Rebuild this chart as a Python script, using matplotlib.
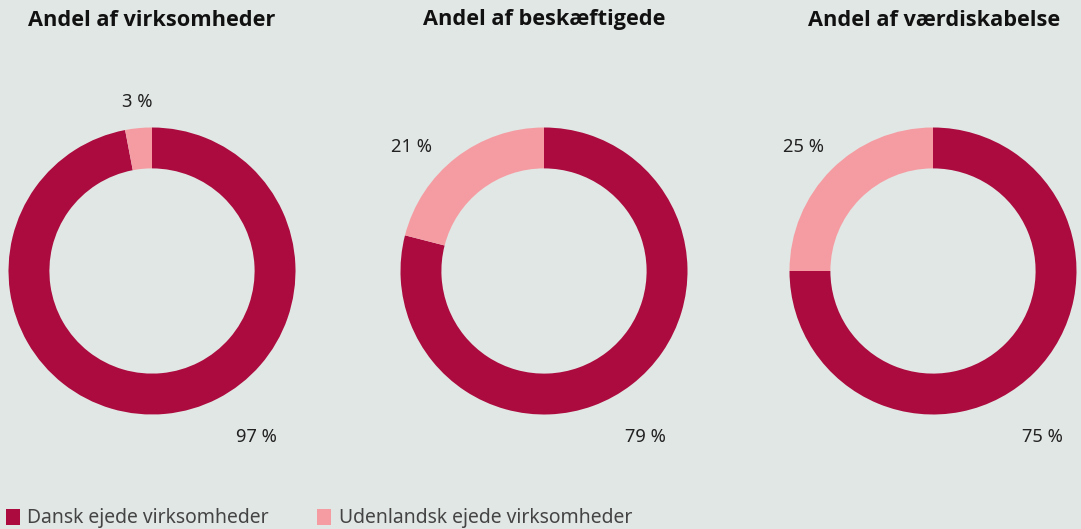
import matplotlib
matplotlib.use("Agg")
import matplotlib.pyplot as plt
from matplotlib.patches import Patch

titles = ["Andel af virksomheder", "Andel af beskæftigede", "Andel af værdiskabelse"]
series = ["Dansk ejede virksomheder", "Udenlandsk ejede virksomheder"]
dansk = [97, 79, 75]
udenlandsk = [3, 21, 25]

colors = ["#ab0b3f", "#f59ca3"]
bg = "#e1e7e4"
plt.rcParams["font.family"] = ["Noto Sans", "DejaVu Sans"]

W, H = 1081, 529
fig = plt.figure(figsize=(W / 100, H / 100), dpi=100, facecolor=bg)

centers_x = [152, 544, 933]
center_y = 271
R = 143.5
L = 1.05
small_label_pos = [(-0.10, 1.175), (-0.92, 0.865), (-0.905, 0.865)]
big_label_pos = [(0.73, -1.155), (0.71, -1.155), (0.76, -1.155)]
title_x = [152, 544, 934]

for i in range(3):
    size = 2 * L * R
    left = (centers_x[i] - size / 2) / W
    bottom = ((H - center_y) - size / 2) / H
    ax = fig.add_axes([left, bottom, size / W, size / H])
    ax.set_facecolor(bg)
    ax.pie([dansk[i], udenlandsk[i]], colors=colors, startangle=90,
           counterclock=False, radius=1.0,
           wedgeprops=dict(width=0.285, edgecolor="none", linewidth=0))
    ax.set_xlim(-L, L)
    ax.set_ylim(-L, L)
    ax.set_aspect("equal")
    ax.axis("off")
    ax.text(*small_label_pos[i], f"{udenlandsk[i]} %", ha="center", va="center",
            fontsize=13.2, color="#222222", clip_on=False)
    ax.text(*big_label_pos[i], f"{dansk[i]} %", ha="center", va="center",
            fontsize=13.2, color="#222222", clip_on=False)
    fig.text(title_x[i] / W, 1 - 20 / H, titles[i], ha="center", va="center",
             fontsize=15.7, fontweight="bold", color="#111111",
             family=["Open Sans", "DejaVu Sans"])

handles = [Patch(facecolor=c, edgecolor="none") for c in colors]
fig.legend(handles, series, loc="lower left", bbox_to_anchor=(0.0, -0.010),
           ncol=2, frameon=False, fontsize=13.9, handlelength=0.72,
           handleheight=0.9, handletextpad=0.4, columnspacing=2.48,
           borderaxespad=0.2, borderpad=0.1, labelcolor="#444444")

fig.savefig("out.png", dpi=100, facecolor=bg)
